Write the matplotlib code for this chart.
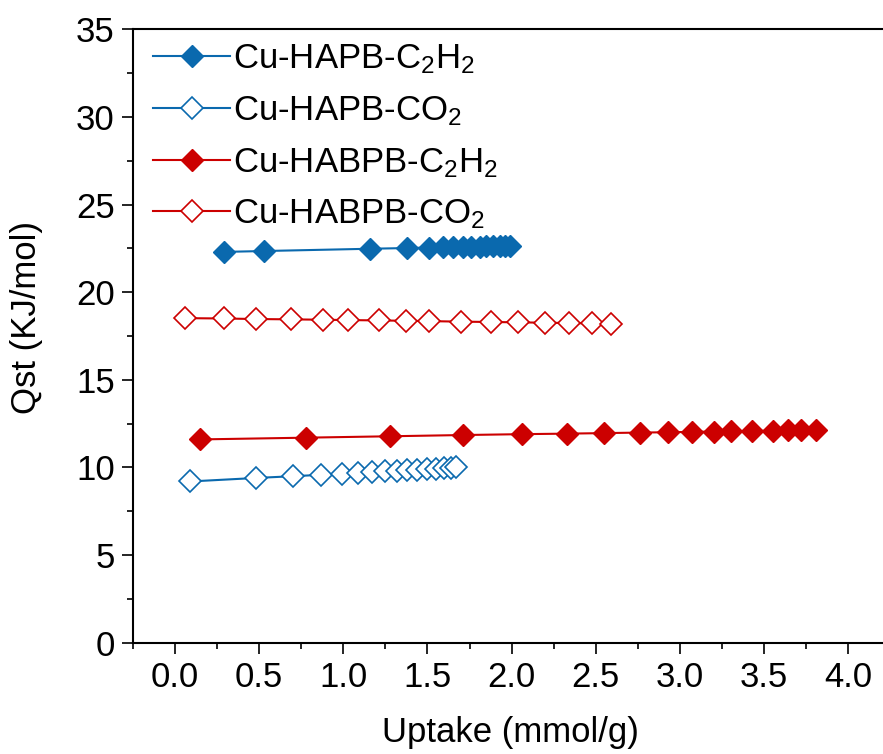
import matplotlib
matplotlib.use("Agg")
import matplotlib.pyplot as plt
from matplotlib.ticker import MultipleLocator

plt.rcParams['font.family'] = ['Liberation Sans', 'DejaVu Sans']
plt.rcParams['mathtext.fontset'] = 'custom'
plt.rcParams['mathtext.rm'] = 'Liberation Sans'
plt.rcParams['mathtext.it'] = 'Liberation Sans'

# data
hapb_c2h2_x = [0.29, 0.53, 1.16, 1.38, 1.51, 1.59, 1.65, 1.71, 1.76, 1.81, 1.85, 1.89, 1.93, 1.96, 1.99]
hapb_c2h2_y = [22.3, 22.35, 22.48, 22.52, 22.55, 22.57, 22.58, 22.59, 22.6, 22.6, 22.61, 22.61, 22.62, 22.62, 22.63]

hapb_co2_x = [0.09, 0.48, 0.70, 0.87, 0.99, 1.09, 1.17, 1.25, 1.32, 1.38, 1.44, 1.50, 1.55, 1.60, 1.64, 1.67]
hapb_co2_y = [9.2, 9.4, 9.5, 9.58, 9.65, 9.7, 9.74, 9.78, 9.81, 9.84, 9.87, 9.9, 9.93, 9.95, 9.97, 10.0]

habpb_c2h2_x = [0.15, 0.78, 1.28, 1.71, 2.06, 2.33, 2.55, 2.76, 2.93, 3.07, 3.20, 3.30, 3.43, 3.55, 3.64, 3.72, 3.81]
habpb_c2h2_y = [11.6, 11.7, 11.78, 11.85, 11.9, 11.93, 11.96, 11.99, 12.01, 12.03, 12.05, 12.06, 12.08, 12.1, 12.11, 12.12, 12.13]

habpb_co2_x = [0.06, 0.29, 0.48, 0.69, 0.88, 1.03, 1.21, 1.37, 1.51, 1.70, 1.88, 2.04, 2.20, 2.34, 2.48, 2.59]
habpb_co2_y = [18.52, 18.5, 18.47, 18.45, 18.43, 18.41, 18.39, 18.37, 18.35, 18.32, 18.3, 18.28, 18.26, 18.24, 18.22, 18.2]

blue = '#0a69ae'
red = '#cc0000'

fig = plt.figure(figsize=(8.83, 7.54), dpi=100)
ax = fig.add_axes([0.1503, 0.1476, 0.8497, 0.8135])

ax.plot(hapb_c2h2_x, hapb_c2h2_y, '-D', color=blue, lw=1.5, ms=11, mfc=blue, mec=blue,
        label='Cu-HAPB-C$_\\mathregular{2}$H$_\\mathregular{2}$')
ax.plot(hapb_co2_x, hapb_co2_y, '-D', color=blue, lw=1.5, ms=11, mfc='white', mec=blue, mew=1.2,
        label='Cu-HAPB-CO$_\\mathregular{2}$')
ax.plot(habpb_c2h2_x, habpb_c2h2_y, '-D', color=red, lw=1.5, ms=11, mfc=red, mec=red,
        label='Cu-HABPB-C$_\\mathregular{2}$H$_\\mathregular{2}$')
ax.plot(habpb_co2_x, habpb_co2_y, '-D', color=red, lw=1.5, ms=11, mfc='white', mec=red, mew=1.2,
        label='Cu-HABPB-CO$_\\mathregular{2}$')

ax.set_xlim(-0.25, 4.205)
ax.set_ylim(0, 35)
ax.xaxis.set_minor_locator(MultipleLocator(0.25))
ax.yaxis.set_major_locator(MultipleLocator(5))
ax.yaxis.set_minor_locator(MultipleLocator(2.5))
ax.set_xticks([0, 0.5, 1, 1.5, 2, 2.5, 3, 3.5, 4])
ax.set_xticklabels(['0.0', '0.5', '1.0', '1.5', '2.0', '2.5', '3.0', '3.5', '4.0'])

ax.tick_params(which='major', direction='out', length=8, width=1.2, labelsize=25, pad=5)
ax.tick_params(which='minor', direction='out', length=4, width=1.2)
for s in ['left', 'bottom', 'top']:
    ax.spines[s].set_linewidth(1.5)
ax.spines['right'].set_visible(False)

ax.set_xlabel('Uptake (mmol/g)', fontsize=25, va='center')
ax.set_ylabel('Qst (KJ/mol)', fontsize=25, va='center')
ax.xaxis.set_label_coords(0.504, -0.146)
ax.yaxis.set_label_coords(-0.141, 0.53)

ax.legend(loc='upper left', frameon=False, fontsize=25, handlelength=2.2, handletextpad=0.08,
          labelspacing=0.52, borderaxespad=0.0, borderpad=0.25, bbox_to_anchor=(0.016, 0.993))

fig.savefig('out.png', dpi=100)
